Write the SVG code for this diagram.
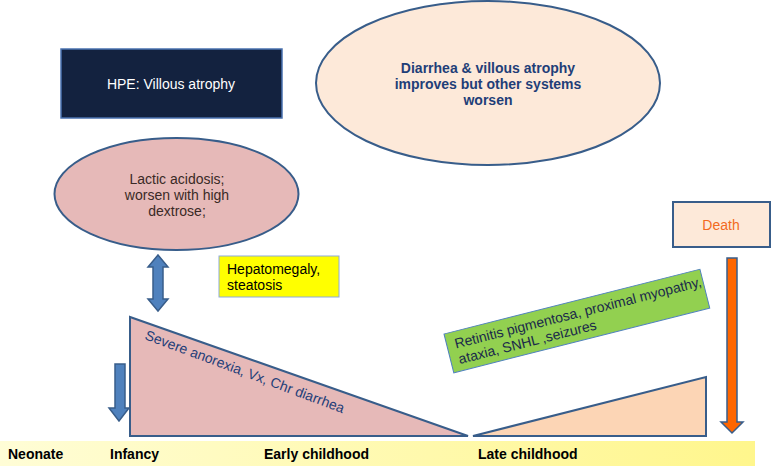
<svg xmlns="http://www.w3.org/2000/svg" width="771" height="466" viewBox="0 0 771 466">
<defs>
<linearGradient id="barGrad" x1="0" y1="0" x2="1" y2="0">
<stop offset="0" stop-color="#fffdd6"/>
<stop offset="1" stop-color="#fff68c"/>
</linearGradient>
</defs>
<style>
text{font-family:"Liberation Sans",Arial,sans-serif;}
.edge{stroke:#385d8a;stroke-width:2;}
.lbl{font-size:14px;font-weight:bold;fill:#000;}
.body{font-size:14px;}
</style>
<rect width="771" height="466" fill="#ffffff"/>
<g id="timeline">
<rect x="0" y="441" width="755" height="25" fill="url(#barGrad)"/>
<text class="lbl" x="8" y="459">Neonate</text>
<text class="lbl" x="110" y="459">Infancy</text>
<text class="lbl" x="264" y="459">Early childhood</text>
<text class="lbl" x="478" y="459">Late childhood</text>
</g>
<g id="hpe">
<rect x="61" y="49" width="221" height="69" fill="#13223f" stroke="#4a72b0" stroke-width="1.5"/>
<text class="body" x="171" y="89" text-anchor="middle" fill="#ffffff">HPE: Villous atrophy</text>
</g>
<g id="improves">
<ellipse cx="488" cy="83" rx="172" ry="82" fill="#fde9d9" class="edge"/>
<text x="488" y="73" text-anchor="middle" font-size="14" font-weight="bold" fill="#1f3e78">Diarrhea &amp; villous atrophy</text>
<text x="488" y="89" text-anchor="middle" font-size="14" font-weight="bold" fill="#1f3e78">improves but other systems</text>
<text x="488" y="105" text-anchor="middle" font-size="14" font-weight="bold" fill="#1f3e78">worsen</text>
</g>
<g id="lactic">
<ellipse cx="176.5" cy="194" rx="122" ry="56" fill="#e6b9b8" class="edge"/>
<text class="body" x="177" y="184" text-anchor="middle" fill="#3a2a26">Lactic acidosis;</text>
<text class="body" x="177" y="200" text-anchor="middle" fill="#3a2a26">worsen with high</text>
<text class="body" x="177" y="216" text-anchor="middle" fill="#3a2a26">dextrose;</text>
</g>
<g id="hepato">
<rect x="219" y="256" width="120" height="41" fill="#ffff00" stroke="#8eaadb" stroke-width="1"/>
<text class="body" x="227" y="274" fill="#000">Hepatomegaly,</text>
<text class="body" x="227" y="290" fill="#000">steatosis</text>
</g>
<g id="severe">
<polygon points="130,317 130,436 468,436" fill="#e6b9b8" class="edge"/>
<text class="body" transform="translate(144,339) rotate(20.5)" fill="#1f3e78">Severe anorexia, Vx, Chr diarrhea</text>
</g>
<g id="late">
<polygon points="473,436 706,377 706,436" fill="#fcd5b5" class="edge"/>
</g>
<g id="neuro">
<g transform="translate(444,334) rotate(-14.2)">
<rect x="0" y="0" width="264" height="40" fill="#92d050" stroke="#4f81bd" stroke-width="1"/>
<text class="body" x="8" y="17" fill="#1a2a4a">Retinitis pigmentosa, proximal myopathy,</text>
<text class="body" x="8" y="33" fill="#1a2a4a">ataxia, SNHL ,seizures</text>
</g>
</g>
<g id="death">
<rect x="673" y="202" width="97" height="45" fill="#fde9d9" class="edge"/>
<text class="body" x="721" y="230" text-anchor="middle" fill="#f26a21">Death</text>
</g>
<g id="connectors">
<polygon points="158,255 168,267 163,267 163,299 168,299 158,311 148,299 153,299 153,267 148,267" fill="#4f81bd" stroke="#385d8a" stroke-width="1.5"/>
<polygon points="115,364 125,364 125,408 129,408 119,421 109,408 115,408" fill="#4f81bd" stroke="#385d8a" stroke-width="1.5"/>
<polygon points="727,258 737,258 737,422 743,422 732,433 721,422 727,422" fill="#ff6600" stroke="#385d8a" stroke-width="1.5"/>
</g>
</svg>
